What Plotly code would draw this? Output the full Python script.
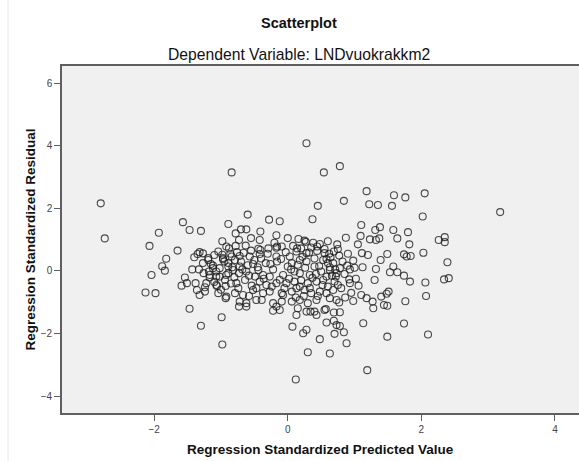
import plotly.graph_objects as go

# Regression standardized predicted value (x) and standardized residual (y)
pred = [
    -2.80, -2.74, -1.93, -1.57, -1.47, -1.30, -2.07, -1.65, -1.82, -1.88, -1.84, -2.04, -2.13, -1.98,
    -1.54, -1.59, -1.51, -1.47, -1.40, -1.43, -1.35, -1.32, -1.27, -1.33, -1.26, -1.38, -1.36, -1.32,
    -1.24, -1.19, -1.18, -1.12, -1.10, -1.04, -1.07, -1.02, -1.06, -0.93, -0.93, -0.99, -0.97, -0.89,
    -0.92, -0.89, -0.89, -1.17, -1.30,
    0.28, -0.84, 0.54, 0.78, 1.18, 1.59, 0.84, 1.22, 1.35, 1.56, 0.45, 0.37, -0.60, -0.28, -0.12,
    1.10, 1.31, 1.38, 1.58, 1.09, 0.87, 1.23, 1.37, 1.64, -0.70, -0.62, -0.78, -0.41, -0.17, -0.73,
    -0.42, 0.16, 0.25, 0.38, 0.48, 0.74, 0.69, 0.77, 0.89, 0.98, 1.11, 1.20, 1.39, 1.49, 1.12, 1.32,
    1.53, 1.58, 1.64, 1.30, 1.06, 0.92, 0.86, 0.98, 1.10, 1.18, 1.27, 1.40, 1.51, 1.44, 1.28, 0.78,
    0.69, 0.57, 0.77, 1.32, 0.27, -0.63, -0.44, -0.29, -0.16, -0.09, 0.14, 0.32, 0.44, 0.64,
    -0.88, -0.78, -0.41, -0.17, 0.20, 0.44,
    -1.19, -0.97, -0.84, -0.72, -0.57, -0.42, -0.17, 0.13, 0.28, 0.55,
    -1.27, -1.12, -1.02, -0.89, -0.79, -0.72, -0.52, -0.44, -0.26, -0.16, 0.03, 0.06, 0.18, 0.28,
    0.40, 0.53, 0.60, 0.68, 0.73,
    -1.17, -1.07, -0.92, -0.82, -0.73, -0.62, -0.49, -0.37, -0.27, -0.07, 0.00, 0.10, 0.18, 0.33,
    0.42, 0.50, 0.58, 0.63,
    -1.22, -1.07, -0.94, -0.77, -0.64, -0.54, -0.42, -0.32, -0.17, -0.02, 0.10, 0.18, 0.30, 0.43,
    0.53, 0.70, 0.75,
    -1.24, -1.04, -0.92, -0.79, -0.67, -0.52, -0.47, -0.37, -0.27, -0.09, 0.06, 0.13, 0.25, 0.35,
    0.48, 0.58, 0.68,
    -0.72, -0.62, -0.39, -0.22, -0.09, 0.18, 0.30, 0.43,
    -0.73, -0.17, -0.22, -0.12, 0.06, 0.15, 0.28, 0.40, 0.55,
    -0.98, -0.62, -0.07, 0.07, 0.23, 0.28, 0.30, 0.12, 0.48, 0.63, 0.70, 0.88, 0.84, 0.73, 0.78,
    0.58, 0.69, 0.43, 0.34, 0.13, 1.13, 1.19, 1.49,
    1.76, 2.05, 2.02, 3.18, 1.80, 1.82, 2.26, 2.35, 2.35, 1.74, 1.78, 1.84, 2.03, 2.39, 1.74, 1.83,
    2.06, 2.34, 2.41, 1.76, 2.07, 1.74, 2.10,
    0.58, 0.63, 0.78, 0.72, 0.93, 0.93, 0.63, 0.73, 1.49, 1.48,
    -0.98, -0.95, -0.86, -0.83, -0.80, -0.76, -0.70, -0.68, -0.66, -0.60, -0.58, -0.55, -0.50, -0.47,
    -0.45, -0.40, -0.36, -0.33, -0.30, -0.24, -0.22, -0.20, -0.12, -0.10, -0.05, -0.03, 0.02, 0.05,
    0.08, 0.12, 0.15, 0.20, 0.22, 0.24, 0.26, 0.33, 0.35, 0.37, 0.40, 0.45, 0.47, 0.52, 0.55, 0.60,
    0.62, 0.66, 0.71, 0.75, 0.80, 0.82, 0.85, 0.90, 0.95, 1.00, 1.02, 1.05, -1.15, -1.10, -1.00,
    -0.85, -0.74, -0.58, -0.98, -0.55, 0.00, 0.60,
]
resid = [
    2.16, 1.04, 1.22, 1.56, 1.31, 1.28, 0.80, 0.65, 0.39, 0.15, 0.01, -0.13, -0.69, -0.71,
    -0.21, -0.47, -0.39, -1.21, 0.44, 0.05, 0.54, 0.60, 0.56, 0.05, -0.07, -0.39, -0.61, -0.77,
    -0.52, 0.41, -0.02, 0.09, 0.51, 0.62, -0.18, -0.18, -0.48, -0.48, -0.87, -1.48, 0.41, 1.50,
    0.78, 0.14, -0.07, -0.21, -1.75,
    4.08, 3.15, 3.15, 3.35, 2.55, 2.42, 2.24, 2.13, 2.11, 2.08, 2.08, 1.65, 1.80, 1.64, 1.59,
    1.47, 1.31, 1.40, 1.31, 1.12, 1.06, 1.01, 1.04, 1.04, 1.33, 1.33, 1.20, 1.26, 1.14, 0.99,
    0.99, 1.02, 0.97, 0.90, 0.86, 0.85, 0.62, 0.49, 0.17, 0.33, 0.57, 0.51, 0.35, 0.54, 0.12, 0.06,
    -0.04, 0.14, -0.04, -0.29, -0.47, -0.27, -0.85, -0.96, -0.77, -0.87, -0.98, -0.82, -0.66, -1.09, -1.19, -1.32,
    -1.33, -1.22, -1.01, 0.99, 0.93, 0.81, 0.71, 0.72, 0.78, 0.78, 0.72, 0.59, 0.64, 0.44,
    0.72, 0.80, 0.67, 0.74, 0.72, 0.78,
    0.35, 0.37, 0.46, 0.48, 0.46, 0.54, 0.46, 0.62, 0.57, 0.57,
    0.25, 0.17, 0.09, 0.25, 0.35, 0.14, 0.22, 0.03, 0.22, 0.30, 0.46, 0.25, 0.35, 0.30,
    0.14, 0.35, 0.25, 0.25, -0.07,
    -0.13, -0.02, -0.13, 0.03, -0.07, -0.02, -0.18, -0.13, -0.18, -0.13, 0.14, -0.02, -0.07, -0.13,
    -0.10, -0.02, -0.18, 0.03,
    -0.39, -0.45, -0.29, -0.39, -0.29, -0.47, -0.34, -0.45, -0.39, -0.39, -0.34, -0.50, -0.39, -0.34,
    -0.29, -0.34, -0.45,
    -0.66, -0.71, -0.82, -0.71, -0.77, -0.61, -0.93, -0.71, -0.66, -0.71, -0.66, -0.55, -0.61, -0.71,
    -0.66, -0.71, -0.61,
    -0.98, -1.03, -0.93, -1.03, -0.98, -0.93, -1.03, -0.93,
    -1.14, -1.14, -1.27, -1.25, -0.98, -1.19, -1.30, -1.30, -1.25,
    -2.35, -1.14, -0.77, -1.78, -1.99, -1.88, -2.60, -3.47, -2.18, -2.64, -2.01, -2.31, -1.96, -1.73, -1.76,
    -1.65, -1.59, -1.41, -1.30, -1.41, -1.67, -3.17, -2.10,
    2.35, 2.48, 1.74, 1.88, 1.24, 0.85, 0.99, 1.08, 0.92, 0.53, 0.46, 0.48, 0.58, 0.28, -0.15, -0.34,
    -0.37, -0.27, -0.23, -0.97, -0.80, -1.68, -2.03,
    0.38, 0.12, 0.09, -0.18, 0.05, -0.39, -0.87, -0.93, -1.11, -0.73,
    0.52, 0.30, 0.55, 0.12, -0.20, 0.60, 0.30, 0.05, 0.58, 0.18, -0.15, 0.65, 0.35, -0.55,
    0.12, 0.40, -0.25, 0.25, 0.55, -0.50, 0.05, 0.90, -0.28, 0.38, -0.55, 0.60, -0.25, 0.05,
    0.80, -0.85, 0.20, -0.30, 0.45, -0.80, 0.10, -0.55, 0.75, -0.22, 0.40, -0.80, 0.15, -0.45, 0.70, -0.50,
    0.55, -0.15, 0.05, 0.70, -0.55, 0.30, -0.10, 0.55, -0.70, 0.10, -0.25, 0.85, 0.22, -0.35, -0.60,
    -0.40, -0.55, -0.80, 0.95, 1.05, 1.05, 0.95,
]

x_ticks = [-2, 0, 2, 4]
y_ticks = [-4, -2, 0, 2, 4, 6]

title_text = "Scatterplot"
subtitle_text = "Dependent Variable: LNDvuokrakkm2"
x_title = "Regression Standardized Predicted Value"
y_title = "Regression Standardized Residual"

FONT = "Liberation Sans, Arial, sans-serif"

fig = go.Figure(go.Scatter(
    x=pred, y=resid, mode="markers",
    marker=dict(symbol="circle-open", size=7, color="rgba(25,25,25,0.78)", line=dict(width=1.1)),
    hoverinfo="skip", showlegend=False,
))

axis_common = dict(
    showgrid=False, zeroline=False, showline=True, linecolor="#5f5f5f", linewidth=1.6,
    ticks="outside", ticklen=6, tickwidth=1.2, tickcolor="#5f5f5f",
    tickfont=dict(family=FONT, size=10, color="#444444"),
)

fig.update_layout(
    width=579, height=461,
    margin=dict(l=62, r=0, t=66, b=48),
    paper_bgcolor="white", plot_bgcolor="#F0F0F0",
    xaxis=dict(range=[-3.38, 4.36], tickvals=x_ticks, mirror=True, **axis_common),
    yaxis=dict(range=[-4.54, 6.55], tickvals=y_ticks, **axis_common),
    annotations=[
        dict(text="<b>" + title_text + "</b>", x=(299 - 62) / 517, y=1.0 + (66 - 23) / 347, xref="paper", yref="paper",
             showarrow=False, xanchor="center", yanchor="middle", font=dict(family=FONT, size=14.5, color="#111")),
        dict(text=subtitle_text, x=(299 - 62) / 517, y=1.0 + (66 - 54) / 347, xref="paper", yref="paper",
             showarrow=False, xanchor="center", yanchor="middle", font=dict(family=FONT, size=15.7, color="#111")),
        dict(text="<b>" + x_title + "</b>", x=0.5, y=-(449 - 413) / 347, xref="paper", yref="paper",
             showarrow=False, xanchor="center", yanchor="middle", font=dict(family=FONT, size=13.5, color="#111")),
        dict(text="<b>" + y_title + "</b>", x=-(62 - 30) / 517, y=0.5, xref="paper", yref="paper",
             showarrow=False, xanchor="center", yanchor="middle", textangle=-90,
             font=dict(family=FONT, size=13.5, color="#111")),
    ],
    shapes=[dict(type="line", xref="paper", yref="paper", x0=-(62 - 8) / 517, x1=-(62 - 8) / 517,
                 y0=-48 / 347, y1=1 + 66 / 347, line=dict(color="#dfe8f0", width=1))],
)

fig.write_html("out.html")
